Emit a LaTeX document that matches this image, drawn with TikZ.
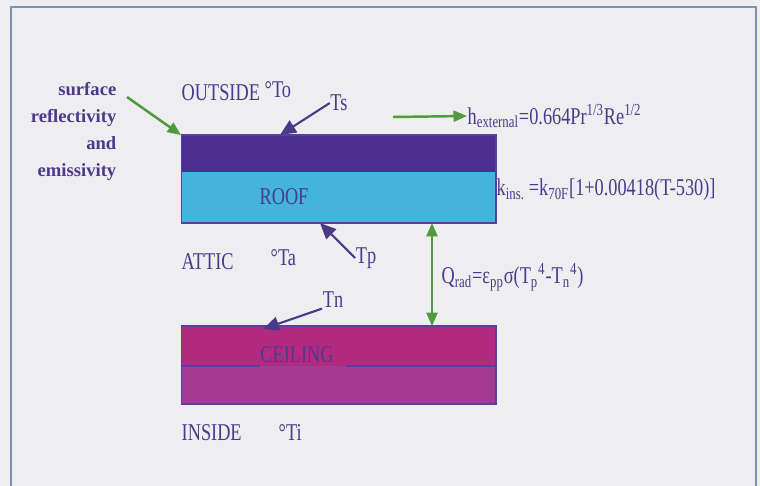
\documentclass[tikz,border=0pt]{standalone}
\usepackage{fontspec}
\setmainfont{Liberation Serif}[FakeStretch=0.76]
\newfontfamily\lblfont{Liberation Serif}
\usetikzlibrary{arrows.meta}
\definecolor{ink}{HTML}{4B3A8C}
\definecolor{roofdark}{HTML}{4B2E8F}
\definecolor{roofblue}{HTML}{45B4DC}
\definecolor{ceiltop}{HTML}{B22A80}
\definecolor{ceilbot}{HTML}{A53A93}
\definecolor{edgeline}{HTML}{5A3E9E}
\definecolor{leaf}{HTML}{4F9A3C}
\definecolor{framecol}{HTML}{7D93B5}
\definecolor{paper}{HTML}{EEEDF0}

\begin{document}
\begin{tikzpicture}[x=0.02cm,y=-0.02cm,line width=0.8pt,>=Stealth,
  txt/.style={text=ink,inner sep=0pt,font=\fontsize{13.7}{16}\selectfont},
  lbl/.style={text=ink,inner sep=0pt,align=right,
    font=\lblfont\bfseries\fontsize{10.6}{15.3}\selectfont},
  layer/.style={inner sep=0pt,outer sep=0pt,minimum width=6.3cm},
  gtip/.style={Triangle[length=0.27cm,width=0.22cm]},
  garrow/.style={leaf,line width=1.4pt,-{Triangle[length=0.27cm,width=0.22cm]}},
  parrow/.style={ink,line width=1.2pt,-{Triangle[length=0.32cm,width=0.28cm]}}]
\useasboundingbox (0,0) rectangle (760,486);
\clip (0,0) rectangle (760,486);
\fill[paper] (0,0) rectangle (760,486);
% 外框（下边在图外）
\draw[framecol,line width=1.3pt] (11,500) -- (11,7) -- (756,7) -- (756,500);

% ---------- 屋顶 ----------
\node[layer,fill=roofdark,minimum height=0.74cm] (skin) at (338.5,153.5) {};
\node[layer,fill=roofblue,minimum height=1.02cm] (ins) at (338.5,197.5) {};
\draw[edgeline,line width=0.6pt] (skin.north west) rectangle (ins.south east);
\node[txt] (roof) at (284,197) {ROOF};

% ---------- 天花板 ----------
\node[layer,fill=ceiltop,minimum height=0.8cm] (ceilA) at (338.5,346) {};
\node[layer,fill=ceilbot,minimum height=0.76cm] (ceilB) at (338.5,385) {};
\draw[edgeline,line width=0.6pt] (ceilA.north west) rectangle (ceilB.south east);
\node[txt] (ceil) at (297,355) {CEILING};
% 分隔线，文字处断开
\draw[edgeline,line width=0.6pt] (ceilA.south west) -- (ceilA.south -| ceil.west);
\draw[edgeline,line width=0.6pt] ([xshift=0.24cm]ceilA.south -| ceil.east) -- (ceilA.south east);

% ---------- 区域与温度 ----------
\node[txt,anchor=west] (out) at (181,93) {OUTSIDE};
\node[txt,anchor=west] (to) at (264,90) {°To};
\node[txt,anchor=west] (attic) at (181,262) {ATTIC};
\node[txt,anchor=west] (ta) at (270,258) {°Ta};
\node[txt,anchor=west] (inside) at (181,433) {INSIDE};
\node[txt,anchor=west] (ti) at (278,432) {°Ti};

% 表面温度箭头
\node[txt] (ts) at (339,103) {Ts};
\node[txt] (tp) at (366,258) {Tp};
\node[txt] (tn) at (333,300) {Tn};
\coordinate (tsend) at (280,135);
\coordinate (tpend) at (320,223);
\coordinate (tnend) at (263,329);
\draw[parrow] (ts.west) -- (tsend);
\draw[parrow] (tp.west) -- (tpend);
\draw[parrow] (tn.south west) -- (tnend);

% ---------- 左侧说明 ----------
\node[lbl,anchor=north east] (surf) at (117,82) {surface\\reflectivity\\and\\emissivity};
\coordinate (surfout) at (127,97);
\draw[garrow] (surfout) -- (skin.north west);

% ---------- 公式 ----------
\node[txt,anchor=west] (hext) at (467,116)
  {h\textsubscript{external}=0.664Pr\textsuperscript{1/3}Re\textsuperscript{1/2}};
\coordinate (hstart) at (393,117);
\draw[garrow] (hstart) -- (hext.west);
\node[txt,anchor=west] (kins) at (496,190)
  {k\textsubscript{ins.}\,=k\textsubscript{70F}[1+0.00418(T-530)]};
\node[txt,anchor=west] (qrad) at (441,277)
  {Q\textsubscript{rad}=ε\textsubscript{pp}σ(T\textsubscript{p}\textsuperscript{4}-T\textsubscript{n}\textsuperscript{4})};
\coordinate (qx) at (432,0);
\draw[garrow,{Triangle[length=0.27cm,width=0.22cm]}-{Triangle[length=0.27cm,width=0.22cm]}]
  (ins.south -| qx) -- (ceilA.north -| qx);
\end{tikzpicture}
\end{document}
